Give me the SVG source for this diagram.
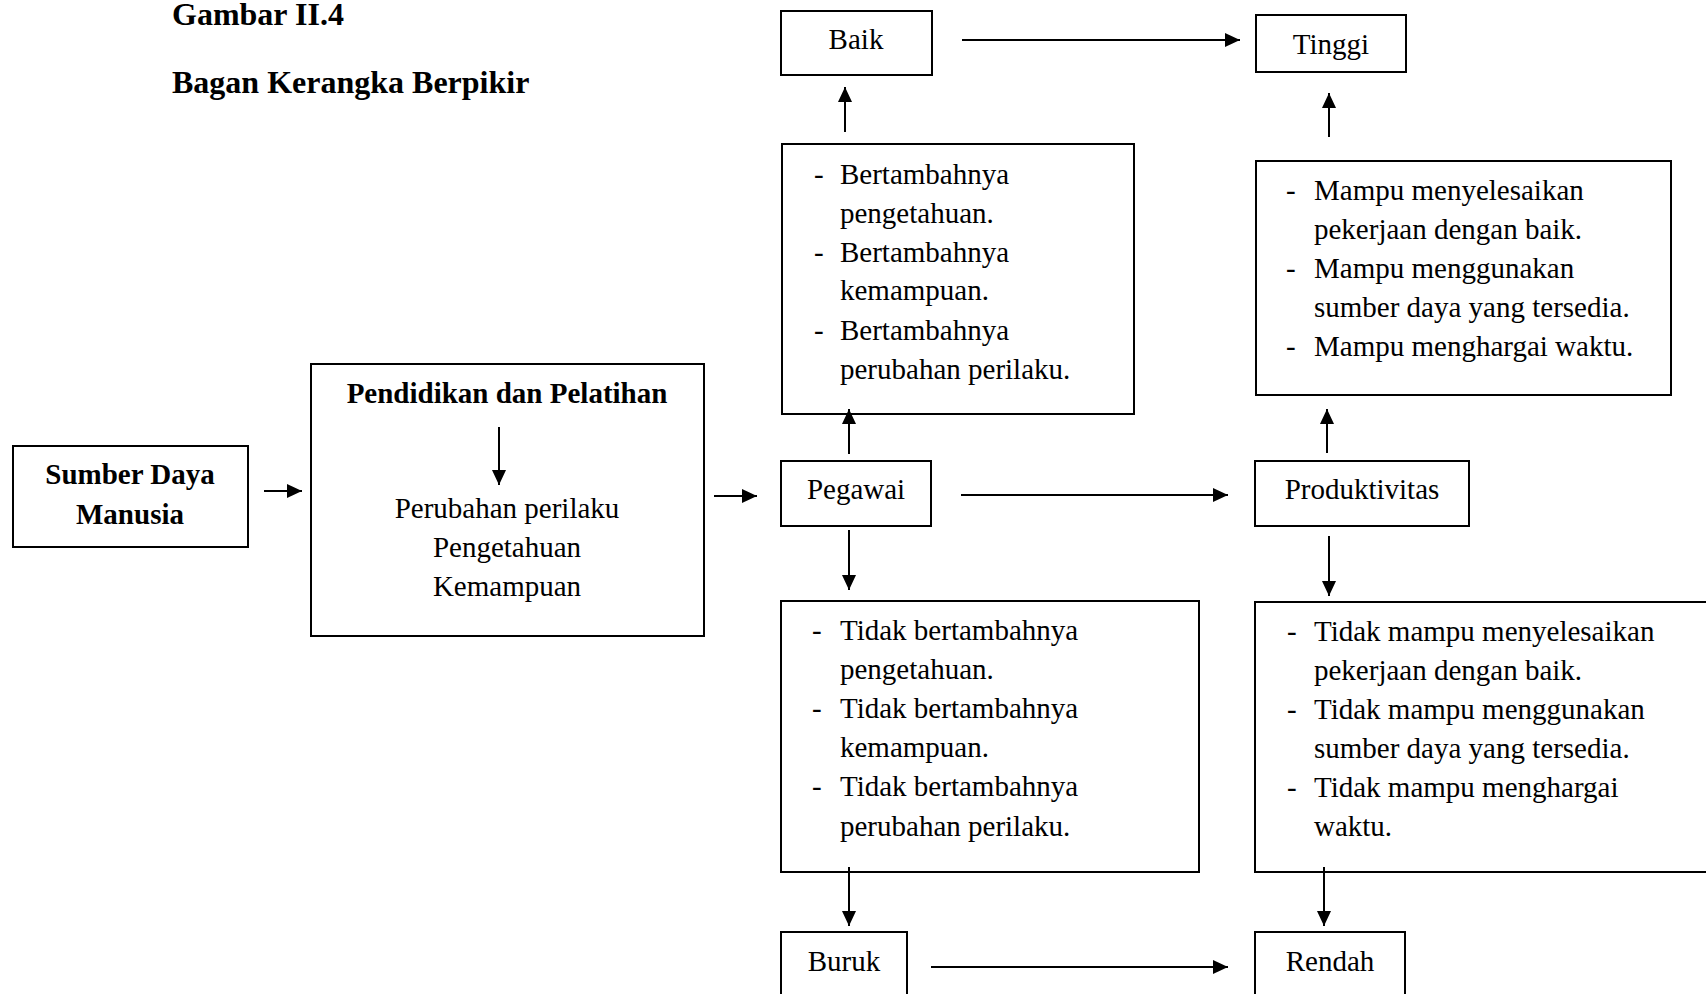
<svg xmlns="http://www.w3.org/2000/svg" width="1706" height="994" viewBox="0 0 1706 994">
<style>
  .box { fill: #fff; stroke: #000; stroke-width: 2; }
  .t { font-family: "Liberation Serif", "Times New Roman", serif; font-size: 29px; fill: #000; }
  .b { font-weight: bold; }
  .h { font-family: "Liberation Serif", "Times New Roman", serif; font-size: 32px; font-weight: bold; fill: #000; }
  .c { text-anchor: middle; }
  .ln { stroke: #000; stroke-width: 2; fill: none; marker-end: url(#ah); }
</style>
<defs>
  <marker id="ah" viewBox="0 0 15 14" refX="15" refY="7" markerWidth="15" markerHeight="14" markerUnits="userSpaceOnUse" orient="auto">
    <path d="M0,0 L15,7 L0,14 z" fill="#000"/>
  </marker>
</defs>
<rect width="1706" height="994" fill="#fff"/>
<g id="title">
  <text class="h" x="172" y="25">Gambar II.4</text>
  <text class="h" x="172" y="93">Bagan Kerangka Berpikir</text>
</g>
<g id="sdm">
  <rect class="box" x="13" y="446" width="235" height="101"/>
  <text class="t b c" x="130" y="484">Sumber Daya</text>
  <text class="t b c" x="130" y="524">Manusia</text>
</g>
<g id="pendidikan">
  <rect class="box" x="311" y="364" width="393" height="272"/>
  <text class="t b c" x="507" y="403">Pendidikan dan Pelatihan</text>
  <line class="ln" x1="499" y1="427" x2="499" y2="485"/>
  <text class="t c" x="507" y="518">Perubahan perilaku</text>
  <text class="t c" x="507" y="557">Pengetahuan</text>
  <text class="t c" x="507" y="596">Kemampuan</text>
</g>
<g id="baik">
  <rect class="box" x="781" y="11" width="151" height="64"/>
  <text class="t c" x="856" y="49">Baik</text>
</g>
<g id="tinggi">
  <rect class="box" x="1256" y="15" width="150" height="57"/>
  <text class="t c" x="1331" y="54">Tinggi</text>
</g>
<g id="bertambah">
  <rect class="box" x="782" y="144" width="352" height="270"/>
  <text class="t" x="814" y="184">-</text><text class="t" x="840" y="184">Bertambahnya</text>
  <text class="t" x="840" y="223">pengetahuan.</text>
  <text class="t" x="814" y="262">-</text><text class="t" x="840" y="262">Bertambahnya</text>
  <text class="t" x="840" y="300">kemampuan.</text>
  <text class="t" x="814" y="340">-</text><text class="t" x="840" y="340">Bertambahnya</text>
  <text class="t" x="840" y="379">perubahan perilaku.</text>
</g>
<g id="mampu">
  <rect class="box" x="1256" y="161" width="415" height="234"/>
  <text class="t" x="1286" y="200">-</text><text class="t" x="1314" y="200">Mampu menyelesaikan</text>
  <text class="t" x="1314" y="239">pekerjaan dengan baik.</text>
  <text class="t" x="1286" y="278">-</text><text class="t" x="1314" y="278">Mampu menggunakan</text>
  <text class="t" x="1314" y="317">sumber daya yang tersedia.</text>
  <text class="t" x="1286" y="356">-</text><text class="t" x="1314" y="356">Mampu menghargai waktu.</text>
</g>
<g id="pegawai">
  <rect class="box" x="781" y="461" width="150" height="65"/>
  <text class="t c" x="856" y="499">Pegawai</text>
</g>
<g id="produktivitas">
  <rect class="box" x="1255" y="461" width="214" height="65"/>
  <text class="t c" x="1362" y="499">Produktivitas</text>
</g>
<g id="tidakbertambah">
  <rect class="box" x="781" y="601" width="418" height="271"/>
  <text class="t" x="812" y="640">-</text><text class="t" x="840" y="640">Tidak bertambahnya</text>
  <text class="t" x="840" y="679">pengetahuan.</text>
  <text class="t" x="812" y="718">-</text><text class="t" x="840" y="718">Tidak bertambahnya</text>
  <text class="t" x="840" y="757">kemampuan.</text>
  <text class="t" x="812" y="796">-</text><text class="t" x="840" y="796">Tidak bertambahnya</text>
  <text class="t" x="840" y="836">perubahan perilaku.</text>
</g>
<g id="tidakmampu">
  <rect class="box" x="1255" y="602" width="500" height="270"/>
  <text class="t" x="1287" y="641">-</text><text class="t" x="1314" y="641">Tidak mampu menyelesaikan</text>
  <text class="t" x="1314" y="680">pekerjaan dengan baik.</text>
  <text class="t" x="1287" y="719">-</text><text class="t" x="1314" y="719">Tidak mampu menggunakan</text>
  <text class="t" x="1314" y="758">sumber daya yang tersedia.</text>
  <text class="t" x="1287" y="797">-</text><text class="t" x="1314" y="797">Tidak mampu menghargai</text>
  <text class="t" x="1314" y="836">waktu.</text>
</g>
<g id="buruk">
  <rect class="box" x="781" y="932" width="126" height="80"/>
  <text class="t c" x="844" y="971">Buruk</text>
</g>
<g id="rendah">
  <rect class="box" x="1255" y="932" width="150" height="80"/>
  <text class="t c" x="1330" y="971">Rendah</text>
</g>
<g id="connectors">
  <line class="ln" x1="264" y1="491" x2="302" y2="491"/>
  <line class="ln" x1="714" y1="496" x2="757" y2="496"/>
  <line class="ln" x1="961" y1="495" x2="1228" y2="495"/>
  <line class="ln" x1="962" y1="40" x2="1240" y2="40"/>
  <line class="ln" x1="931" y1="967" x2="1228" y2="967"/>
  <line class="ln" x1="845" y1="132" x2="845" y2="87"/>
  <line class="ln" x1="1329" y1="137" x2="1329" y2="93"/>
  <line class="ln" x1="849" y1="454" x2="849" y2="409"/>
  <line class="ln" x1="1327" y1="453" x2="1327" y2="409"/>
  <line class="ln" x1="849" y1="530" x2="849" y2="590"/>
  <line class="ln" x1="1329" y1="536" x2="1329" y2="596"/>
  <line class="ln" x1="849" y1="867" x2="849" y2="926"/>
  <line class="ln" x1="1324" y1="867" x2="1324" y2="926"/>
</g>
</svg>
